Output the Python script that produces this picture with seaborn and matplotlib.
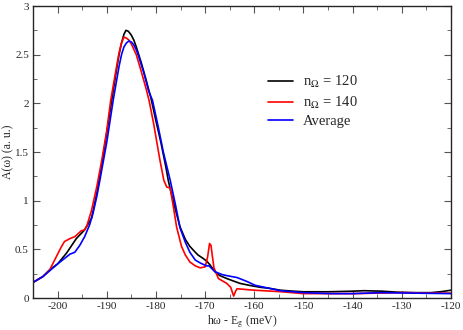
import pandas as pd
import matplotlib
matplotlib.use('Agg')
import matplotlib.pyplot as plt
import seaborn as sns
from matplotlib.ticker import MultipleLocator

# n_Omega = 120 (black)
x_120 = [-205, -203, -201.6, -200, -198.2, -196.2, -194.5, -193.1, -192, -191, -190, -189, -188, -187.5, -187,
         -186.5, -186.1, -185.6, -185, -184.5, -184, -183, -182, -181, -180, -179, -178, -177.5, -177, -176, -175.1, -174,
         -173.1, -172, -171.4, -170.5, -169.7, -169, -168, -167, -165.6, -164, -162.9, -161, -158.8,
         -157, -154.7, -152, -150, -145, -140, -137.7, -134, -131, -127, -124, -122, -120]
y_120 = [0.16, 0.22, 0.29, 0.35, 0.46, 0.61, 0.70, 0.82, 1.08, 1.38, 1.70, 2.03, 2.35, 2.50, 2.62,
         2.71, 2.75, 2.74, 2.70, 2.65, 2.58, 2.42, 2.24, 2.05, 1.82, 1.60, 1.35, 1.21, 1.10, 0.90, 0.73, 0.60,
         0.53, 0.47, 0.44, 0.41, 0.38, 0.34, 0.27, 0.23, 0.20, 0.17, 0.15, 0.13, 0.11,
         0.10, 0.08, 0.07, 0.064, 0.064, 0.07, 0.075, 0.07, 0.06, 0.055, 0.055, 0.065, 0.08]

# n_Omega = 140 (red)
x_140 = [-205, -203, -201.6, -200.3, -199.3, -198.6, -197.5, -196.5, -195.2, -194.5, -194, -193.1,
         -192, -191, -190, -189.2, -188, -187.5, -187, -186.5, -186, -185.5, -185, -184, -183, -182, -181.4, -180.5,
         -179.2, -178.4, -177.8, -177.1, -176.5, -175.8, -174.8, -174, -173.1, -172, -171, -170,
         -169.5, -169.1, -168.8, -168.5, -168.2, -167.3, -165.6, -164.8, -164.2, -163.8, -163.5,
         -160, -154.7, -150, -140, -135, -130, -125, -120]
y_140 = [0.16, 0.22, 0.29, 0.42, 0.52, 0.58, 0.61, 0.63, 0.69, 0.70, 0.75, 0.90,
         1.15, 1.42, 1.72, 2.03, 2.38, 2.52, 2.62, 2.68, 2.67, 2.65, 2.61, 2.50, 2.33, 2.15, 2.03, 1.80,
         1.42, 1.21, 1.14, 1.13, 0.95, 0.73, 0.53, 0.44, 0.37, 0.33, 0.31, 0.32,
         0.42, 0.56, 0.54, 0.42, 0.31, 0.20, 0.15, 0.11, 0.02, 0.07, 0.095,
         0.08, 0.065, 0.045, 0.045, 0.05, 0.055, 0.05, 0.05]

# Average (blue)
x_avg = [-205, -203, -201.6, -200, -198.5, -197.5, -196.5, -195.5, -194.5, -193.5, -192.8, -192,
         -191.4, -190, -188.7, -187.5, -187, -186.5, -186, -185.5, -185, -184.5, -184, -183.5, -182.5, -181.5, -180.7,
         -179.5, -178.5, -177.1, -176, -175.1, -174, -173.1, -172, -171, -169.7, -169.2, -168,
         -166.5, -165.6, -163.5, -161.5, -159.8, -157, -154.7, -150, -144.5, -140, -134.3,
         -127.5, -120]
y_avg = [0.16, 0.22, 0.28, 0.35, 0.41, 0.45, 0.47, 0.54, 0.63, 0.75, 0.87, 1.05,
         1.21, 1.60, 2.03, 2.38, 2.50, 2.58, 2.62, 2.64, 2.63, 2.60, 2.55, 2.48, 2.32, 2.13, 2.03,
         1.75, 1.50, 1.21, 0.95, 0.72, 0.57, 0.47, 0.39, 0.36, 0.33, 0.33, 0.27,
         0.24, 0.23, 0.21, 0.17, 0.13, 0.10, 0.075, 0.055, 0.045, 0.045, 0.055,
         0.05, 0.045]

labels = [r'n$_\Omega$ = 120', r'n$_\Omega$ = 140', 'Average']
colors = ['black', 'red', 'blue']

sns.set_style('ticks')
plt.rcParams['font.family'] = ['Liberation Serif', 'DejaVu Serif']
plt.rcParams['mathtext.fontset'] = 'stix'
plt.rcParams['axes.unicode_minus'] = False

fig, ax = plt.subplots(figsize=(4.63, 3.30), dpi=100)
fig.subplots_adjust(left=33 / 463, right=451 / 463, top=1 - 6 / 330, bottom=1 - 298 / 330)

series = [(x_120, y_120), (x_140, y_140), (x_avg, y_avg)]
for (xs, ys), lab, col in zip(series, labels, colors):
    d = pd.DataFrame({'x': xs, 'y': ys})
    sns.lineplot(data=d, x='x', y='y', ax=ax, color=col, label=lab, lw=1.2, estimator=None)

ax.set_xlim(-205, -120)
ax.set_ylim(0, 3)
ax.xaxis.set_major_locator(MultipleLocator(10))
ax.xaxis.set_minor_locator(MultipleLocator(5))
ax.yaxis.set_major_locator(MultipleLocator(0.5))
ax.yaxis.set_minor_locator(MultipleLocator(0.25))
ax.tick_params(which='both', direction='in', top=True, right=True, labelsize=8, color='#555555', pad=3)
ax.tick_params(which='major', length=5)
ax.tick_params(which='minor', length=3)
ax.yaxis.set_major_formatter(plt.FuncFormatter(lambda v, p: '%g' % v))
for s in ax.spines.values():
    s.set_linewidth(1)

ax.set_xlabel(r'hω - E$_\mathrm{g}$ (meV)', fontsize=8.5, labelpad=2)
ax.set_ylabel('A(ω) (a. u.)', fontsize=8.5, labelpad=0.5)

ax.legend(loc='upper left', bbox_to_anchor=(0.562, 0.766), frameon=False, fontsize=10.5,
          handlelength=1.7, handletextpad=0.7, labelspacing=0.3, borderpad=0, borderaxespad=0)

fig.savefig('out.png', dpi=100)
